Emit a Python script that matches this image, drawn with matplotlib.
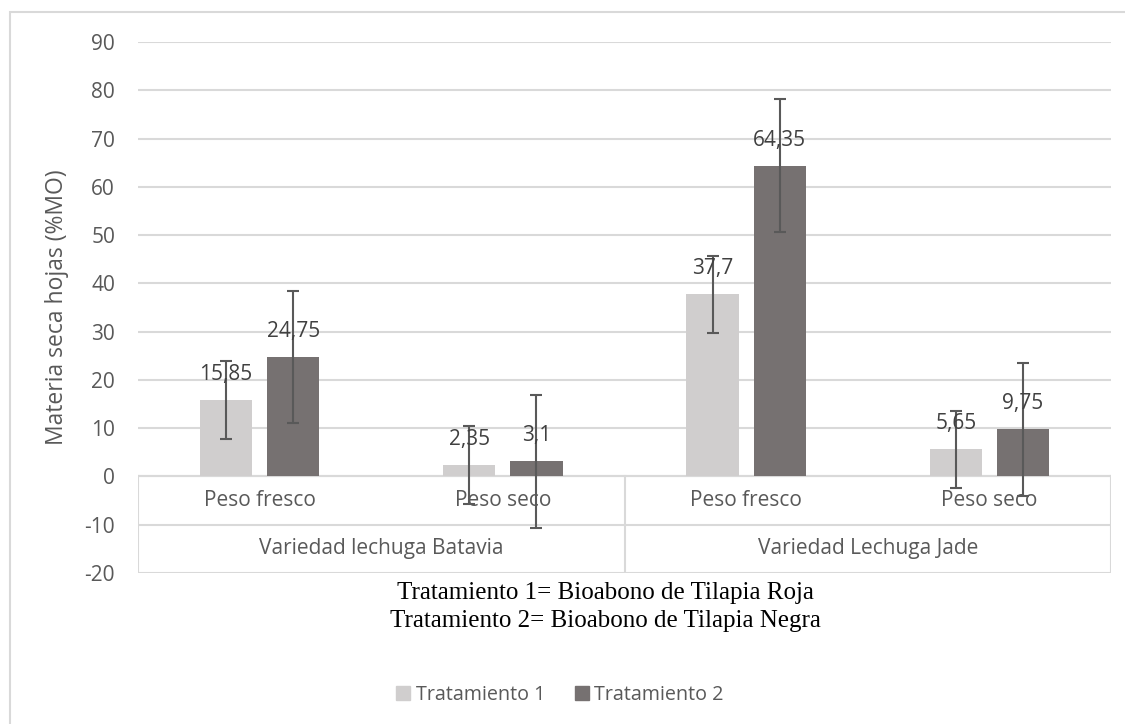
import matplotlib
matplotlib.use("Agg")
import matplotlib.pyplot as plt
from matplotlib.patches import Patch, Rectangle

# --- data ---
subcats = ["Peso fresco", "Peso seco", "Peso fresco", "Peso seco"]
groups = ["Variedad lechuga Batavia", "Variedad Lechuga Jade"]
trat1 = [15.85, 2.35, 37.7, 5.65]
trat2 = [24.75, 3.1, 64.35, 9.75]
err1 = [8, 8, 8, 8]
err2 = [13.75, 13.75, 13.75, 13.75]
series_names = ["Tratamiento 1", "Tratamiento 2"]
yticks = list(range(-20, 91, 10))
note_lines = ["Tratamiento 1= Bioabono de Tilapia Roja",
              "Tratamiento 2= Bioabono de Tilapia Negra"]

plt.rcParams["font.family"] = ["Open Sans", "DejaVu Sans"]
plt.rcParams["axes.unicode_minus"] = False

C1 = "#d0cece"
C2 = "#767171"
GRID = "#d9d9d9"
TXT = "#595959"
FS = 15

fig = plt.figure(figsize=(11.25, 7.24), dpi=100)
ax = fig.add_axes([138 / 1125, 1 - 573 / 724, (1111 - 138) / 1125, (573 - 42) / 724])

# outer chart border (only top/left visible in reference)
fig.patches.append(Rectangle((10 / 1125, -0.1), 1.2, 1 - 12 / 724 + 0.1,
                             transform=fig.transFigure, fill=False,
                             edgecolor=GRID, linewidth=1.5))

x = list(range(len(subcats)))
off = 0.138
w = 0.215
x1 = [i - off for i in x]
x2 = [i + off for i in x]

ax.bar(x1, trat1, width=w, color=C1, zorder=3)
ax.bar(x2, trat2, width=w, color=C2, zorder=3)
ekw = dict(fmt="none", ecolor="#595959", elinewidth=1.5, capsize=4, capthick=1.5, zorder=5)
ax.errorbar(x1, trat1, yerr=err1, **ekw)
ax.errorbar(x2, trat2, yerr=err2, **ekw)

for xs, vals in ((x1, trat1), (x2, trat2)):
    for xi, v in zip(xs, vals):
        ax.annotate(str(v).replace(".", ","), xy=(xi, v), xytext=(0, 11),
                    textcoords="offset points", ha="center", va="bottom",
                    fontsize=FS, color="#404040", zorder=6)

ax.set_xlim(-0.5, 3.5)
ax.set_ylim(-20, 90)
ax.set_yticks(yticks)
ax.set_yticklabels([str(t) for t in yticks])
ax.tick_params(axis="y", length=0, pad=16.5, labelsize=FS, labelcolor=TXT)
ax.set_xticks([])
for s in ax.spines.values():
    s.set_visible(False)
for t in yticks:
    ax.axhline(t, color=GRID, linewidth=1.5, zorder=1)

# multi-level category axis
ax.plot([-0.5, 3.5], [0, 0], color=GRID, linewidth=1.5, zorder=2)
for xv in (-0.5, 1.5, 3.5):
    ax.plot([xv, xv], [0, -20], color=GRID, linewidth=1.5, zorder=2)
for i, lab in enumerate(subcats):
    ax.text(i, -5, lab, ha="center", va="center", fontsize=FS, color=TXT, zorder=4)
for g, lab in enumerate(groups):
    ax.text(2 * g + 0.5, -15, lab, ha="center", va="center", fontsize=FS, color=TXT, zorder=4)

ax.set_ylabel("Materia seca hojas (%MO)", fontsize=16.5, color=TXT, labelpad=11)

fig.text(605 / 1125, 1 - 607 / 724, "\n".join(note_lines), ha="center", va="center",
         family=["Liberation Serif"], fontsize=18, color="black", linespacing=1.3)

handles = [Patch(color=C1, label=series_names[0]), Patch(color=C2, label=series_names[1])]
fig.legend(handles=handles, loc="center", bbox_to_anchor=(560 / 1125, 1 - 695 / 724),
           ncol=2, frameon=False, fontsize=14.2, handlelength=0.7, handleheight=0.7,
           handletextpad=0.3, columnspacing=1.5, labelcolor=TXT)

fig.savefig("out.png", dpi=100, facecolor="white")
